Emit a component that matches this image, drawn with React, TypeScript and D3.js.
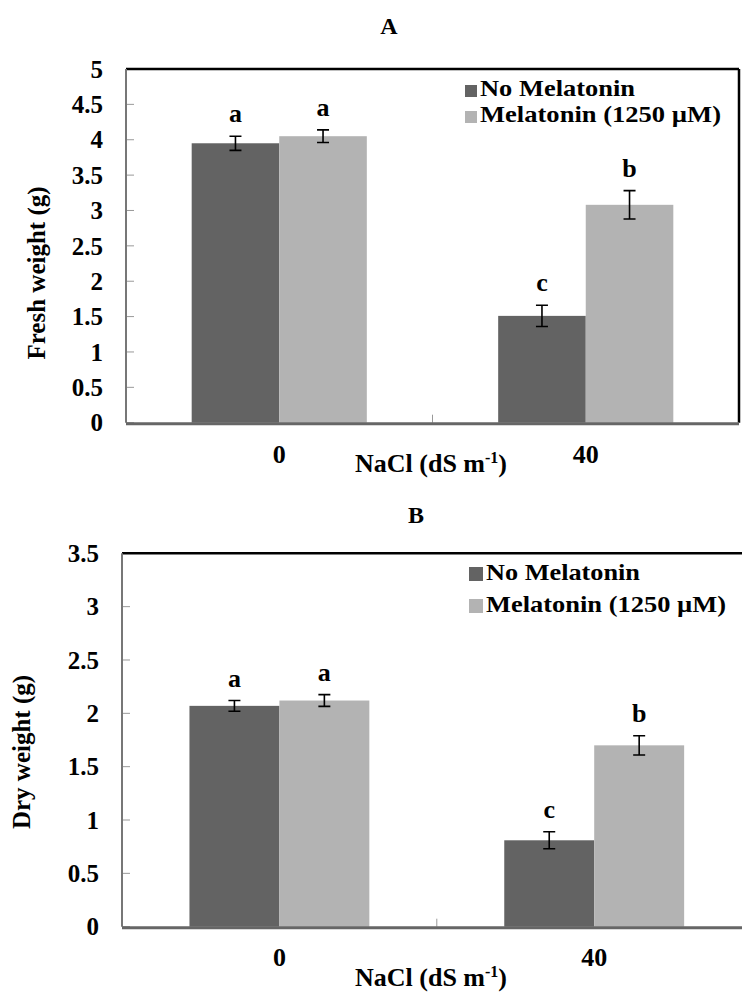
import React, { useEffect, useRef } from 'react';
import * as d3 from 'd3';

const categories = ['0', '40'];
const seriesNames = ['No Melatonin', 'Melatonin (1250 µM)'];

const freshNoMel = [3.95, 1.51];
const freshMel = [4.05, 3.08];
const freshNoMelErr = [0.1, 0.15];
const freshMelErr = [0.09, 0.2];
const freshNoMelLetters = ['a', 'c'];
const freshMelLetters = ['a', 'b'];
const freshTicks = [0, 0.5, 1, 1.5, 2, 2.5, 3, 3.5, 4, 4.5, 5];

const dryNoMel = [2.07, 0.81];
const dryMel = [2.12, 1.7];
const dryNoMelErr = [0.05, 0.08];
const dryMelErr = [0.055, 0.09];
const dryNoMelLetters = ['a', 'c'];
const dryMelLetters = ['a', 'b'];
const dryTicks = [0, 0.5, 1, 1.5, 2, 2.5, 3, 3.5];

const colors = ['#636363', '#b3b3b3'];
const FONT = '"Liberation Serif", "Times New Roman", serif';

type Panel = {
  title: string;
  titleX: number;
  titleY: number;
  yLabel: string;
  yLabelX: number;
  yLabelY: number;
  left: number;
  right: number;
  top: number;
  bottom: number;
  ticks: number[];
  means: number[][];
  errs: number[][];
  letters: string[][];
  legendX: number;
  legendY: number;
  legendGap: number;
  legendBox: number;
  legendWidths: number[];
  xLabelY: number;
  xTitleX: number;
  xTitleY: number;
};

function drawPanel(svg: any, p: Panel) {
  const g = svg.append('g');
  const yMax = d3.max(p.ticks) as number;
  const y = d3.scaleLinear().domain([0, yMax]).range([p.bottom, p.top]);
  const x = d3.scaleBand().domain(categories).range([p.left, p.right]).padding(0);
  const inner = d3.scaleBand().domain(seriesNames).range([0, x.bandwidth()])
    .paddingInner(0).paddingOuter(0.75);

  // panel letter
  g.append('text').attr('x', p.titleX).attr('y', p.titleY)
    .attr('text-anchor', 'middle').attr('font-size', 24).attr('font-weight', 'bold')
    .attr('font-family', FONT).text(p.title);

  // bars
  seriesNames.forEach((s, si) => {
    categories.forEach((c, ci) => {
      const v = p.means[si][ci];
      const bx = (x(c) as number) + (inner(s) as number);
      g.append('rect').attr('x', bx).attr('y', y(v))
        .attr('width', inner.bandwidth()).attr('height', y(0) - y(v))
        .attr('fill', colors[si]);
    });
  });

  // y ticks point inward
  p.ticks.forEach(t => {
    g.append('line').attr('x1', p.left).attr('x2', p.left + 8)
      .attr('y1', y(t)).attr('y2', y(t)).attr('stroke', '#999').attr('stroke-width', 1);
    g.append('text').attr('x', p.left - 23).attr('y', y(t)).attr('dy', '0.35em')
      .attr('text-anchor', 'end').attr('font-size', 25).attr('font-weight', 'bold')
      .attr('font-family', FONT).text(t);
  });

  // tick between the two groups
  const midX = x(categories[1]) as number;
  g.append('line').attr('x1', midX).attr('x2', midX)
    .attr('y1', p.bottom).attr('y2', p.bottom - 8).attr('stroke', '#999').attr('stroke-width', 1);

  // frame
  g.append('line').attr('x1', p.left).attr('x2', p.right).attr('y1', p.top).attr('y2', p.top)
    .attr('stroke', '#000').attr('stroke-width', 2.5);
  g.append('line').attr('x1', p.right).attr('x2', p.right).attr('y1', p.top).attr('y2', p.bottom)
    .attr('stroke', '#000').attr('stroke-width', 2.5);
  g.append('line').attr('x1', p.left).attr('x2', p.left).attr('y1', p.top).attr('y2', p.bottom)
    .attr('stroke', '#777').attr('stroke-width', 2);
  g.append('line').attr('x1', p.left).attr('x2', p.right).attr('y1', p.bottom + 1).attr('y2', p.bottom + 1)
    .attr('stroke', '#666').attr('stroke-width', 3);

  // error bars + significance letters
  seriesNames.forEach((s, si) => {
    categories.forEach((c, ci) => {
      const v = p.means[si][ci];
      const e = p.errs[si][ci];
      const cx = (x(c) as number) + (inner(s) as number) + inner.bandwidth() / 2;
      const y1 = y(v + e), y2 = y(v - e);
      const path = d3.path();
      path.moveTo(cx, y1); path.lineTo(cx, y2);
      path.moveTo(cx - 6, y1); path.lineTo(cx + 6, y1);
      path.moveTo(cx - 6, y2); path.lineTo(cx + 6, y2);
      g.append('path').attr('d', path.toString()).attr('stroke', '#000')
        .attr('stroke-width', 1.6).attr('fill', 'none');
      g.append('text').attr('x', cx).attr('y', y1 - 14).attr('text-anchor', 'middle')
        .attr('font-size', 26).attr('font-weight', 'bold').attr('font-family', FONT)
        .text(p.letters[si][ci]);
    });
  });

  // category labels
  categories.forEach(c => {
    g.append('text').attr('x', (x(c) as number) + x.bandwidth() / 2).attr('y', p.xLabelY)
      .attr('text-anchor', 'middle').attr('font-size', 26).attr('font-weight', 'bold')
      .attr('font-family', FONT).text(c);
  });

  // x title with superscript
  const xt = g.append('text').attr('x', p.xTitleX).attr('y', p.xTitleY)
    .attr('text-anchor', 'middle').attr('font-size', 26)
    .attr('font-weight', 'bold').attr('font-family', FONT);
  xt.append('tspan').text('NaCl (dS m');
  xt.append('tspan').attr('dy', -9).attr('font-size', 16).text('-1');
  xt.append('tspan').attr('dy', 9).text(')');

  // y title
  g.append('text').attr('transform', `translate(${p.yLabelX},${p.yLabelY}) rotate(-90)`)
    .attr('text-anchor', 'middle').attr('font-size', 25).attr('font-weight', 'bold')
    .attr('font-family', FONT).text(p.yLabel);

  // legend
  seriesNames.forEach((s, si) => {
    const by = p.legendY + si * p.legendGap;
    g.append('rect').attr('x', p.legendX).attr('y', by - p.legendBox + 1)
      .attr('width', p.legendBox).attr('height', p.legendBox).attr('fill', colors[si]);
    g.append('text').attr('x', p.legendX + p.legendBox + 3).attr('y', by)
      .attr('font-size', 23).attr('font-weight', 'bold').attr('font-family', FONT)
      .attr('textLength', p.legendWidths[si]).attr('lengthAdjust', 'spacingAndGlyphs')
      .text(s);
  });
}

const App = () => {
  const svgRef = useRef<SVGSVGElement>(null);

  useEffect(() => {
    const svg = d3.select(svgRef.current);
    svg.selectAll('*').remove();

    drawPanel(svg, {
      title: 'A', titleX: 389, titleY: 34,
      yLabel: 'Fresh weight (g)', yLabelX: 45, yLabelY: 273,
      left: 126, right: 739, top: 69, bottom: 422.7,
      ticks: freshTicks,
      means: [freshNoMel, freshMel],
      errs: [freshNoMelErr, freshMelErr],
      letters: [freshNoMelLetters, freshMelLetters],
      legendX: 465, legendY: 96, legendGap: 26, legendBox: 12, legendWidths: [155, 241],
      xLabelY: 463, xTitleX: 431, xTitleY: 472,
    });

    drawPanel(svg, {
      title: 'B', titleX: 416, titleY: 523,
      yLabel: 'Dry weight (g)', yLabelX: 30, yLabelY: 752,
      left: 122, right: 751.6, top: 553.3, bottom: 926.7,
      ticks: dryTicks,
      means: [dryNoMel, dryMel],
      errs: [dryNoMelErr, dryMelErr],
      letters: [dryNoMelLetters, dryMelLetters],
      legendX: 469, legendY: 580, legendGap: 32, legendBox: 14, legendWidths: [154, 240],
      xLabelY: 966, xTitleX: 431, xTitleY: 986,
    });
  }, []);

  return (
    <svg ref={svgRef} width={742} height={994}
      style={{ position: 'absolute', left: 0, top: 0, background: '#fff' }} />
  );
};

export default App;
